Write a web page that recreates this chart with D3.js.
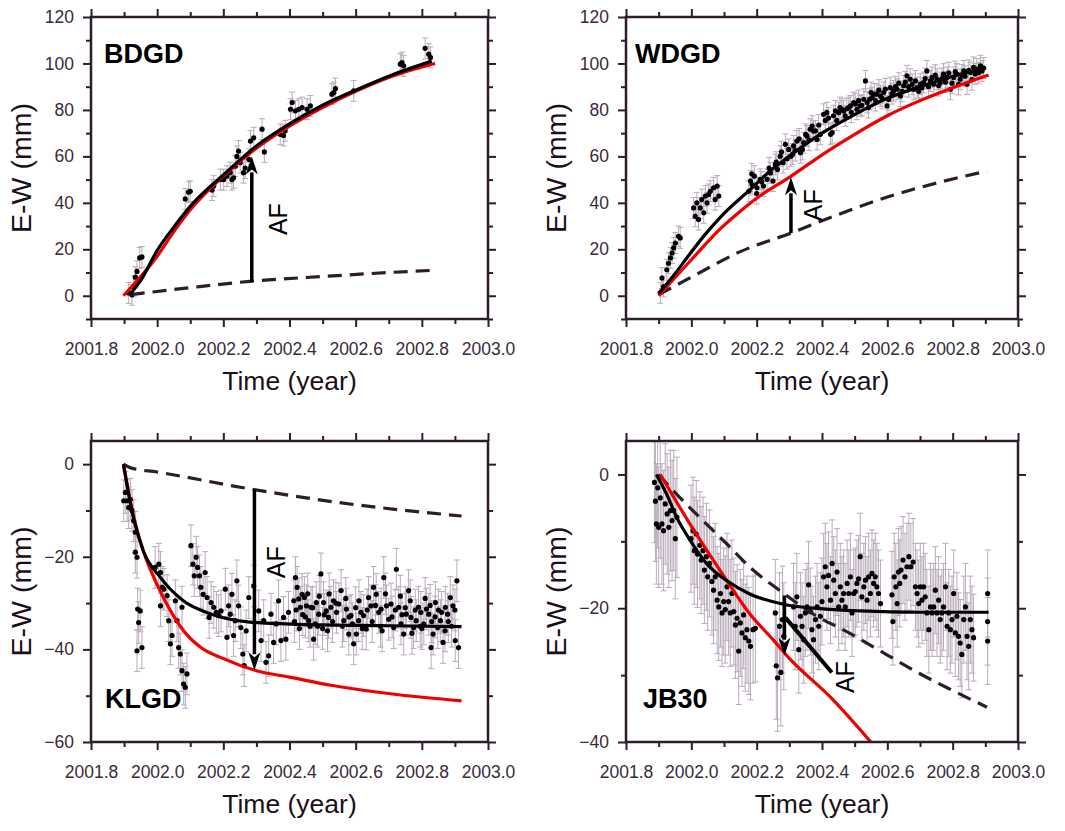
<!DOCTYPE html>
<html>
<head>
<meta charset="utf-8">
<script src="https://cdn.jsdelivr.net/npm/d3@7"></script>
<style>
body { margin: 0; background: #fff; }
text { font-family: "Liberation Sans", Arial, Helvetica, sans-serif; }
</style>
</head>
<body>
<svg id="chart" width="1065" height="831"></svg>
<script>
// tick values shared by every panel
var xMajor = [2001.8, 2002.0, 2002.2, 2002.4, 2002.6, 2002.8, 2003.0];
var xMinor = [2001.9, 2002.1, 2002.3, 2002.5, 2002.7, 2002.9];

// ---- BDGD ----
var bdgdObs = [[2001.914,1.2],[2001.924,0.4],[2001.929,4],[2001.934,8],[2001.939,10.5],[2001.947,16.3],[2001.954,16.7],
  [2002.085,41.7],[2002.095,44.6],[2002.1,45],
  [2002.166,45.5],[2002.171,47.2],[2002.191,50],[2002.201,50],[2002.211,51.5],[2002.221,53],[2002.226,50],[2002.231,50.8],
  [2002.236,55.8],[2002.241,60],[2002.246,62.3],[2002.251,57.3],[2002.261,53],[2002.266,55],[2002.277,58.7],[2002.282,66.6],[2002.292,68],
  [2002.317,71.7],[2002.324,61.9],[2002.372,69.5],[2002.382,69],[2002.387,71],[2002.403,80.3],[2002.408,83.2],[2002.418,79.6],
  [2002.428,80.3],[2002.438,81],[2002.453,80.3],[2002.463,81.7],
  [2002.528,86.8],[2002.534,87.5],[2002.539,89.2],[2002.594,88.2],[2002.735,99.7],[2002.74,100.4],[2002.745,99],
  [2002.81,106.5],[2002.821,104],[2002.826,102.6]];
var bdgdFit = [[2001.92,1],[2001.95,6.5],[2002.0,19.5],[2002.05,29.5],[2002.1,38.5],[2002.2,52],[2002.3,64.5],[2002.4,74],
  [2002.5,82],[2002.6,88.5],[2002.7,94.5],[2002.83,101]];
var bdgdModel = [[2001.898,0],[2002.0,17],[2002.05,27.5],[2002.1,37],[2002.2,51.5],[2002.3,63.5],[2002.4,73],[2002.5,81],
  [2002.6,88],[2002.7,94],[2002.84,100]];
var bdgdDash = [[2001.92,0.5],[2002.1,3.5],[2002.28,6.2],[2002.5,8.3],[2002.7,10],[2002.84,11]];

// ---- WDGD ----
var wdgdObs = [[2001.905,1.3],[2001.91,7.6],[2001.915,4],[2001.925,11.2],[2001.93,14],[2001.936,16.3],[2001.941,18.4],
  [2001.946,20.6],[2001.951,22.7],[2001.961,25.6],[2001.966,24.9],
  [2002.007,37.8],[2002.012,34.2],[2002.017,40],[2002.022,32.8],[2002.027,37.8],[2002.032,41.4],[2002.038,35.7],[2002.043,42.9],
  [2002.048,40],[2002.053,43.6],[2002.058,45],[2002.068,46.5],[2002.073,41.4],[2002.079,47.2],[2002.084,42.9],
  [2002.176,45],[2002.181,49.4],[2002.186,47.9],[2002.193,51.5],[2002.201,46.5],[2002.211,50.1],[2002.221,47.2],[2002.232,50.1],
  [2002.242,52.9],[2002.25,49.4],[2002.257,56.5],[2002.264,54.4],[2002.272,60.1],[2002.281,57.3],[2002.288,65.2],[2002.298,63],
  [2002.305,60.1],[2002.313,64.5],[2002.323,66.6],[2002.334,61.6],[2002.344,65.9],[2002.354,68.8],[2002.364,71.7],[2002.374,70.9],
  [2002.385,67.3],[2002.395,69.5],[2002.405,78.1],[2002.415,78.8],[2002.426,69.5],[2002.431,70.2],[2002.441,79.6],[2002.451,78.8],
  [2002.461,80.3],[2002.471,77.4],[2002.482,81],[2002.487,81.7],[2002.497,83.2],[2002.507,80.3],[2002.517,81.7],[2002.528,84.6],
  [2002.533,92.5],[2002.538,83.2],[2002.546,84.6],[2002.553,85.3],[2002.56,86.8],[2002.568,86.8],[2002.579,86],[2002.589,87.5],
  [2002.599,81.7],[2002.609,89.6],[2002.619,88.2],[2002.63,88.9],[2002.64,86],[2002.65,90.4],[2002.66,94.7],[2002.67,93.2],
  [2002.681,88.9],[2002.691,89.6],[2002.701,91.1],[2002.711,91.8],[2002.721,96.8],[2002.732,92.5],[2002.742,91.1],[2002.752,93.2],
  [2002.762,91.8],[2002.772,95.4],[2002.783,94],[2002.793,88.9],[2002.803,94],[2002.813,95.4],[2002.823,93.2],[2002.834,96.8],
  [2002.844,91.1],[2002.854,96.1],[2002.864,98.3],[2002.874,97.6],[2002.885,99],[2002.89,96.8],
  [2002.185,52.5],[2002.2,44],[2002.216,49],[2002.238,55],[2002.26,57.5],[2002.276,62],[2002.293,59],[2002.31,61],[2002.318,62.5],
  [2002.33,67.5],[2002.34,63],[2002.35,69.5],[2002.36,67],[2002.37,73],[2002.38,71],[2002.39,73.5],[2002.41,75.5],[2002.42,76.5],
  [2002.435,77.5],[2002.445,75.5],[2002.455,81],[2002.466,79.5],[2002.476,80.5],[2002.49,79],[2002.502,82.5],[2002.512,84],
  [2002.522,82],[2002.542,81],[2002.55,87.5],[2002.564,84],[2002.574,88.5],[2002.584,85],[2002.594,89],[2002.604,84.5],
  [2002.614,87],[2002.625,90],[2002.635,91.5],[2002.645,88],[2002.655,92],[2002.665,90],[2002.676,91],[2002.686,92.5],
  [2002.696,88],[2002.706,89.5],[2002.716,93.5],[2002.726,90],[2002.737,94],[2002.747,95],[2002.757,90.5],[2002.767,93.5],
  [2002.778,92],[2002.788,96],[2002.798,91.5],[2002.808,96.5],[2002.818,91],[2002.828,95],[2002.838,94.5],[2002.849,97],
  [2002.859,93],[2002.869,95.5],[2002.879,96],[2002.895,98]];
var wdgdFit = [[2001.9,1],[2001.95,9.5],[2001.99,17],[2002.04,26],[2002.09,34],[2002.19,47],[2002.24,53.6],[2002.28,58],
  [2002.4,70],[2002.5,78],[2002.6,85],[2002.7,90],[2002.8,94.5],[2002.9,98]];
var wdgdModel = [[2001.9,0],[2002.0,15.5],[2002.09,29],[2002.15,36.4],[2002.2,42],[2002.3,51],[2002.42,62.5],[2002.5,69.5],
  [2002.6,77.5],[2002.7,84],[2002.8,89.5],[2002.91,95]];
var wdgdDash = [[2001.9,0.5],[2002.0,8],[2002.15,19],[2002.305,27],[2002.45,35],[2002.6,42.5],[2002.75,48.5],[2002.905,53.7]];

// ---- KLGD ----
var klgdObs = [[2001.899,-7.9],[2001.904,-6.1],[2001.909,-7.9],[2001.914,-9.4],[2001.919,-7.6],[2001.924,-10],[2001.929,-12.2],
  [2001.934,-14.7],[2001.934,-19],[2001.939,-20.1],[2001.939,-40.3],[2001.944,-34.2],[2001.941,-31.3],[2001.949,-31.7],[2001.954,-39.6],
  [2001.994,-22.3],[2002.005,-21.6],[2002.01,-23.4],[2002.015,-26.6],[2002.02,-27],[2002.01,-30.6],[2002.03,-28.4],[2002.035,-33.8],
  [2002.04,-38.8],[2002.045,-37],[2002.055,-29.5],[2002.06,-33.8],[2002.065,-39.6],[2002.07,-41],[2002.075,-44.6],[2002.08,-47.5],
  [2002.085,-48.2],[2002.09,-45.3],[2002.075,-30.9],
  [2002.102,-17.6],[2002.108,-21.6],[2002.112,-24.1],[2002.118,-20.1],[2002.122,-22.3],[2002.128,-24.1],[2002.132,-26.6],
  [2002.139,-28.1],[2002.145,-23.4],[2002.151,-28.8],[2002.157,-33.1],[2002.163,-29.9],[2002.171,-30.9],[2002.179,-32],
  [2002.186,-32.7],[2002.193,-31.7],
  [2002.206,-27],[2002.211,-37.4],[2002.216,-30.6],[2002.221,-32.4],[2002.226,-28.1],[2002.231,-37],[2002.236,-33.8],[2002.241,-25.2],
  [2002.246,-30.6],[2002.253,-35.3],[2002.259,-41],[2002.263,-43.5],[2002.269,-36],[2002.277,-28.8],[2002.292,-26.3],
  [2002.307,-31.7],[2002.314,-38.1],[2002.322,-33.8],[2002.329,-42.8],[2002.337,-41.4],[2002.344,-32.4],[2002.352,-38.5],
  [2002.36,-34.5],[2002.367,-29.5],[2002.374,-38.1],[2002.382,-33.1],[2002.389,-37.8],[2002.397,-32],
  [2002.413,-29.5],[2002.418,-24.5],[2002.423,-26.6],[2002.428,-29.1],[2002.433,-30.9],[2002.438,-28.1],[2002.445,-28.8],
  [2002.451,-30.6],[2002.458,-33.8],[2002.465,-30.9],[2002.473,-37.8],[2002.481,-29.9],[2002.488,-32.4],[2002.495,-23.7],
  [2002.503,-29.9],[2002.511,-31.7],[2002.518,-33.1],[2002.525,-30.9],[2002.533,-29.5],[2002.542,-32],[2002.549,-30.2],
  [2002.556,-27.3],[2002.564,-33.8],[2002.572,-31.3],[2002.579,-36.7],[2002.586,-32.7],[2002.594,-38.8],[2002.602,-36.7],
  [2002.609,-33.8],[2002.616,-32],[2002.624,-32.7],[2002.632,-35.6],[2002.639,-28.8],[2002.646,-30.6],[2002.654,-26.6],
  [2002.662,-28.1],[2002.67,-32],[2002.677,-31.3],[2002.685,-24.5],[2002.693,-30.6],[2002.7,-33.5],[2002.707,-30.2],
  [2002.715,-35.3],[2002.723,-22.7],[2002.73,-30.9],[2002.737,-34.5],[2002.745,-36.7],[2002.753,-32.4],[2002.76,-27.3],
  [2002.767,-33.1],[2002.775,-35.3],[2002.783,-33.8],[2002.79,-30.9],[2002.797,-32],[2002.806,-34.5],[2002.814,-31.3],
  [2002.821,-32.4],[2002.828,-39.6],[2002.834,-36.7],[2002.841,-29.9],[2002.848,-35.3],[2002.856,-33.8],[2002.864,-38.5],
  [2002.871,-30.9],[2002.878,-32.4],[2002.886,-28.8],[2002.894,-30.6],[2002.901,-38.1],[2002.906,-25.2],[2002.911,-39.6],
  [2002.415,-34],[2002.43,-35.5],[2002.448,-33],[2002.462,-35],[2002.478,-34.5],[2002.5,-35.5],[2002.515,-36],[2002.53,-34],
  [2002.56,-35],[2002.59,-34.5],[2002.62,-35.5],[2002.65,-34],[2002.68,-36],[2002.71,-33],[2002.74,-32.5],[2002.77,-36.5],
  [2002.8,-35.5],[2002.83,-34],[2002.86,-32],[2002.89,-35],
  [2002.42,-31.5],[2002.44,-32.5],[2002.455,-28],[2002.47,-31],[2002.485,-35],[2002.49,-28.5],[2002.505,-32.5],[2002.52,-28],
  [2002.54,-30],[2002.57,-29],[2002.58,-33],[2002.6,-31],[2002.61,-29.5],[2002.635,-31.5],[2002.66,-30.5],[2002.675,-35],
  [2002.69,-28],[2002.72,-31.5],[2002.735,-28.5],[2002.75,-31],[2002.765,-29.5],[2002.78,-31.5],[2002.795,-35],[2002.81,-29],
  [2002.825,-30.5],[2002.84,-33],[2002.85,-31.5],[2002.87,-36],[2002.88,-34],[2002.9,-31.5]];
var klgdFit = [[2001.898,0],[2001.928,-11.5],[2001.958,-18.7],[2002.009,-24.4],[2002.079,-29.5],[2002.16,-32.3],[2002.28,-34.1],
  [2002.43,-34.6],[2002.7,-34.9],[2002.92,-35.1]];
var klgdModel = [[2001.898,0],[2001.923,-9.4],[2001.948,-16.5],[2001.999,-25.9],[2002.029,-30.2],[2002.079,-35.9],[2002.13,-39.5],
  [2002.2,-42],[2002.3,-44.6],[2002.4,-46],[2002.53,-47.8],[2002.73,-49.8],[2002.92,-51.1]];
var klgdDash = [[2001.898,0],[2001.92,-0.8],[2002.0,-1.7],[2002.285,-5.4],[2002.55,-8.3],[2002.92,-11.2]];

// ---- JB30 (third value = error half-width where it differs) ----
var jb30Obs = [[2001.887,-1.2,9],[2001.89,-4,9],[2001.893,-7.4,9],[2001.897,-2,9],[2001.9,-7.9,9],[2001.905,-3.5,9],[2001.91,-7.4,9],
  [2001.915,-8.4,9],[2001.92,-4.4,9],[2001.926,-5.9,9],[2001.931,-7.9,9],[2001.936,-5.4,9],[2001.941,-6.9,9],[2001.946,-5.4,9],
  [2001.951,-9.6,9],[2001.956,-6.4,9],
  [2001.999,-9.6,8],[2002.005,-8.4,8],[2002.009,-11.4,8],[2002.015,-8.9,8],[2002.019,-11.9,8],[2002.026,-10.6,8],[2002.03,-12.8,8],
  [2002.036,-11.4,8],[2002.04,-14.3,8],[2002.046,-12.3,8],[2002.05,-15.3,8],[2002.056,-13.3,8],[2002.063,-16,8],[2002.068,-17.3,8],
  [2002.073,-15.3,8],[2002.079,-18.8,8],[2002.084,-19.8,8],[2002.089,-17.8,8],[2002.094,-20.7,8],[2002.099,-19,8],
  [2002.104,-20.2,8],[2002.109,-16.8,8],[2002.114,-19,8],[2002.119,-20.7,8],[2002.124,-17.8,8],[2002.13,-20.5,8],[2002.135,-22.5,8],
  [2002.14,-21.5,8],[2002.145,-26.4,8],[2002.15,-22.2,8],[2002.155,-23.7,8],[2002.16,-21,8],[2002.165,-24.4,8],[2002.17,-23.2,8],
  [2002.176,-24.9,8],[2002.181,-25.7,8],[2002.189,-23.2,8],[2002.196,-23,8],
  [2002.257,-20.7,8],[2002.26,-28.6,8],[2002.264,-30.4,8],[2002.27,-22.7,8],[2002.274,-29.6,8],[2002.279,-21.7,8],[2002.283,-24.2,8],
  [2002.313,-19.8],[2002.318,-22.7],[2002.323,-18.3],[2002.329,-26.2],[2002.334,-21.2],[2002.339,-22.7],[2002.344,-24.7],
  [2002.349,-20.7],[2002.354,-19.8],[2002.359,-16.5],[2002.364,-20.5],[2002.369,-23.2],[2002.374,-24.7],[2002.38,-21.7],
  [2002.385,-19.8],[2002.39,-22.7],[2002.395,-21.2],
  [2002.4,-19],[2002.405,-15.3],[2002.41,-13.8],[2002.415,-16.8],[2002.42,-15.1],[2002.426,-18.8],[2002.431,-13.3],[2002.436,-15.8],
  [2002.441,-17.8],[2002.446,-14.6],[2002.451,-19.8],[2002.456,-16.8],[2002.461,-18.8],[2002.466,-17.8],[2002.471,-19.8],
  [2002.477,-16.3],[2002.482,-17.8],[2002.487,-15.3],[2002.492,-20.7],[2002.497,-17.8],[2002.502,-17.5],[2002.507,-16.3],
  [2002.512,-15.6],[2002.517,-12.3],[2002.522,-18.3],[2002.528,-16.8],[2002.533,-15.8],[2002.538,-18.8],[2002.543,-15.3],
  [2002.548,-17.8],[2002.553,-14.8],[2002.558,-16.3],[2002.563,-15.3],[2002.568,-16.8],[2002.573,-17.8],[2002.579,-19.3],
  [2002.614,-18],[2002.617,-22],[2002.621,-15.3],[2002.626,-16.8],[2002.63,-19.3],[2002.634,-14.6],[2002.638,-16.3],[2002.642,-14.3],
  [2002.648,-12.8],[2002.654,-15.3],[2002.66,-13.8],[2002.666,-12.3],[2002.672,-13.8],[2002.679,-13.1],[2002.686,-16.8],
  [2002.691,-17.8],[2002.696,-19.3],[2002.701,-16.8],[2002.706,-18.8],[2002.711,-16.8],[2002.716,-18.3],[2002.721,-20.7],
  [2002.727,-23.2],[2002.732,-19.8],[2002.737,-20.7],[2002.742,-19.8],[2002.747,-17.3],[2002.752,-20.7],[2002.757,-18.8],
  [2002.762,-21.7],[2002.767,-20.7],[2002.772,-19.8],[2002.778,-16.8],[2002.783,-22.7],[2002.788,-20.7],[2002.793,-23.2],
  [2002.798,-21.7],[2002.803,-17.8],[2002.808,-23.7],[2002.813,-21.2],[2002.818,-24.2],[2002.823,-25.2],[2002.828,-26.9],
  [2002.834,-21.7],[2002.839,-19.8],[2002.844,-24.2],[2002.849,-25.7],[2002.854,-21.7],[2002.859,-23.2],[2002.864,-24.4],
  [2002.907,-17.8],[2002.907,-22],[2002.907,-24.9]];
var jb30Fit = [[2001.893,0],[2001.925,-3],[2001.956,-6.5],[2001.997,-9.9],[2002.048,-13.4],[2002.109,-15.9],[2002.18,-17.9],
  [2002.282,-19.4],[2002.405,-20.1],[2002.517,-20.4],[2002.7,-20.6],[2002.91,-20.6]];
var jb30Model = [[2001.905,0],[2001.997,-7.5],[2002.048,-11.4],[2002.109,-15.9],[2002.18,-20.9],[2002.252,-24.8],[2002.3,-27.5],
  [2002.426,-33.3],[2002.56,-40.6]];
var jb30Dash = [[2001.9,0],[2001.946,-2.5],[2002.027,-6.5],[2002.109,-10.4],[2002.18,-13.9],[2002.272,-17.4],[2002.374,-20.9],
  [2002.487,-23.8],[2002.6,-27],[2002.7,-29.8],[2002.8,-32.3],[2002.905,-34.8]];
var jb30Leader = [[2002.288,-21.4],[2002.43,-29.6]];

var panels = [
  {name: "BDGD", obs: bdgdObs, fit: bdgdFit, model: bdgdModel, dash: bdgdDash, err: 4.5,
   x0: 91, x1: 488, y0: 17, y1: 319, yDomain: [-10, 120], yMajor: [0, 20, 40, 60, 80, 100, 120], yMinor: [-10, 10, 30, 50, 70, 90, 110],
   arrow: {t: 2002.286, from: 6, to: 60}, af: [2002.392, 33], nameAt: [104, 63]},
  {name: "WDGD", obs: wdgdObs, fit: wdgdFit, model: wdgdModel, dash: wdgdDash, err: 4.5,
   x0: 626, x1: 1018, y0: 17, y1: 319, yDomain: [-10, 120], yMajor: [0, 20, 40, 60, 80, 100, 120], yMinor: [-10, 10, 30, 50, 70, 90, 110],
   arrow: {t: 2002.305, from: 27, to: 51}, af: [2002.40, 39], nameAt: [635, 63]},
  {name: "KLGD", obs: klgdObs, fit: klgdFit, model: klgdModel, dash: klgdDash, err: 4.5,
   x0: 91, x1: 488, y0: 441, y1: 742, yDomain: [-60, 5], yMajor: [-60, -40, -20, 0], yMinor: [-50, -30, -10],
   arrow: {t: 2002.294, from: -5.4, to: -44.5}, af: [2002.386, -21.2], nameAt: [105, 708]},
  {name: "JB30", obs: jb30Obs, fit: jb30Fit, model: jb30Model, dash: jb30Dash, err: 6.5, leader: jb30Leader,
   x0: 626, x1: 1018, y0: 441, y1: 742, yDomain: [-40, 5], yMajor: [-40, -20, 0], yMinor: [-30, -10],
   arrow: {t: 2002.285, from: -18.1, to: -27.1}, af: [2002.497, -30.3], nameAt: [643, 708]}
];

var frameColor = "#2c1c2c";
var labelColor = "#3a2a3a";
var svg = d3.select("#chart");

panels.forEach(function (p, i) {
  var x = d3.scaleLinear().domain([2001.8, 2003.0]).range([p.x0, p.x1]);
  var y = d3.scaleLinear().domain(p.yDomain).range([p.y1, p.y0]);
  var g = svg.append("g");

  g.append("clipPath").attr("id", "clip" + i)
    .append("rect")
    .attr("x", p.x0).attr("y", p.y0)
    .attr("width", p.x1 - p.x0).attr("height", p.y1 - p.y0);

  var plot = g.append("g").attr("clip-path", "url(#clip" + i + ")");

  // error bars
  var bars = plot.append("g")
    .attr("stroke", "#b9aabb")
    .attr("stroke-width", 1)
    .attr("fill", "none");
  p.obs.forEach(function (d) {
    var e = d[2] || p.err;
    var cx = x(d[0]);
    bars.append("line").attr("x1", cx).attr("x2", cx).attr("y1", y(d[1] - e)).attr("y2", y(d[1] + e));
    bars.append("line").attr("x1", cx - 3).attr("x2", cx + 3).attr("y1", y(d[1] - e)).attr("y2", y(d[1] - e));
    bars.append("line").attr("x1", cx - 3).attr("x2", cx + 3).attr("y1", y(d[1] + e)).attr("y2", y(d[1] + e));
  });

  // points
  plot.append("g").selectAll("circle")
    .data(p.obs)
    .enter().append("circle")
    .attr("cx", function (d) { return x(d[0]); })
    .attr("cy", function (d) { return y(d[1]); })
    .attr("r", 2.6)
    .attr("fill", "#000");

  var line = d3.line()
    .x(function (d) { return x(d[0]); })
    .y(function (d) { return y(d[1]); })
    .curve(d3.curveMonotoneX);

  plot.append("path").datum(p.dash)
    .attr("d", line).attr("fill", "none")
    .attr("stroke", frameColor).attr("stroke-width", 3.2)
    .attr("stroke-dasharray", "14,8");

  plot.append("path").datum(p.model)
    .attr("d", line).attr("fill", "none")
    .attr("stroke", "#ee0000").attr("stroke-width", 3.2);

  plot.append("path").datum(p.fit)
    .attr("d", line).attr("fill", "none")
    .attr("stroke", "#000").attr("stroke-width", 3.2);

  if (p.leader) {
    plot.append("path").datum(p.leader)
      .attr("d", d3.line().x(function (d) { return x(d[0]); }).y(function (d) { return y(d[1]); }))
      .attr("stroke", "#000").attr("stroke-width", 4);
  }

  // AF arrow
  var ax = x(p.arrow.t), ya = y(p.arrow.from), yb = y(p.arrow.to);
  var dir = yb < ya ? 1 : -1;
  var headLen = 18, headW = 6;
  g.append("line")
    .attr("x1", ax).attr("x2", ax)
    .attr("y1", ya).attr("y2", yb + dir * (headLen - 2))
    .attr("stroke", "#000").attr("stroke-width", 3.5);
  g.append("path")
    .attr("d", "M" + ax + "," + yb +
      "L" + (ax - headW) + "," + (yb + dir * headLen) +
      "L" + ax + "," + (yb + dir * (headLen - 5)) +
      "L" + (ax + headW) + "," + (yb + dir * headLen) + "Z")
    .attr("fill", "#000");

  g.append("text")
    .attr("transform", "translate(" + x(p.af[0]) + "," + y(p.af[1]) + ") rotate(-90)")
    .attr("text-anchor", "middle")
    .style("font-size", "25px")
    .attr("fill", "#000")
    .text("AF");

  // frame
  g.append("rect")
    .attr("x", p.x0).attr("y", p.y0)
    .attr("width", p.x1 - p.x0).attr("height", p.y1 - p.y0)
    .attr("fill", "none").attr("stroke", frameColor).attr("stroke-width", 2.5);

  function styleAxis(sel) {
    sel.select(".domain").remove();
    sel.selectAll(".tick line").attr("stroke", frameColor).attr("stroke-width", 2);
    sel.selectAll(".tick text").attr("fill", labelColor).style("font-size", "17.5px");
  }

  var fmtX = d3.format(".1f");
  g.append("g").attr("transform", "translate(0," + p.y1 + ")")
    .call(d3.axisBottom(x).tickValues(xMajor).tickSize(8).tickPadding(16).tickFormat(fmtX)).call(styleAxis);
  g.append("g").attr("transform", "translate(0," + p.y1 + ")")
    .call(d3.axisBottom(x).tickValues(xMinor).tickSize(5).tickFormat("")).call(styleAxis);
  g.append("g").attr("transform", "translate(0," + p.y0 + ")")
    .call(d3.axisTop(x).tickValues(xMajor).tickSize(8).tickFormat("")).call(styleAxis);
  g.append("g").attr("transform", "translate(0," + p.y0 + ")")
    .call(d3.axisTop(x).tickValues(xMinor).tickSize(5).tickFormat("")).call(styleAxis);

  g.append("g").attr("transform", "translate(" + p.x0 + ",0)")
    .call(d3.axisLeft(y).tickValues(p.yMajor).tickSize(8).tickPadding(9).tickFormat(d3.format("d"))).call(styleAxis);
  g.append("g").attr("transform", "translate(" + p.x0 + ",0)")
    .call(d3.axisLeft(y).tickValues(p.yMinor).tickSize(5).tickFormat("")).call(styleAxis);
  g.append("g").attr("transform", "translate(" + p.x1 + ",0)")
    .call(d3.axisRight(y).tickValues(p.yMajor).tickSize(8).tickFormat("")).call(styleAxis);
  g.append("g").attr("transform", "translate(" + p.x1 + ",0)")
    .call(d3.axisRight(y).tickValues(p.yMinor).tickSize(5).tickFormat("")).call(styleAxis);

  // axis titles
  g.append("text")
    .attr("x", (p.x0 + p.x1) / 2).attr("y", p.y1 + 71)
    .attr("text-anchor", "middle")
    .style("font-size", "26.5px")
    .attr("fill", "#1a0f1a")
    .text("Time (year)");

  g.append("text")
    .attr("transform", "translate(" + (p.x0 - 60) + "," + ((p.y0 + p.y1) / 2) + ") rotate(-90)")
    .attr("text-anchor", "middle")
    .style("font-size", "28.5px")
    .attr("fill", "#1a0f1a")
    .text("E-W (mm)");

  g.append("text")
    .attr("x", p.nameAt[0]).attr("y", p.nameAt[1])
    .style("font-size", "27px").style("font-weight", "bold")
    .attr("fill", "#000")
    .text(p.name);
});
</script>
</body>
</html>
